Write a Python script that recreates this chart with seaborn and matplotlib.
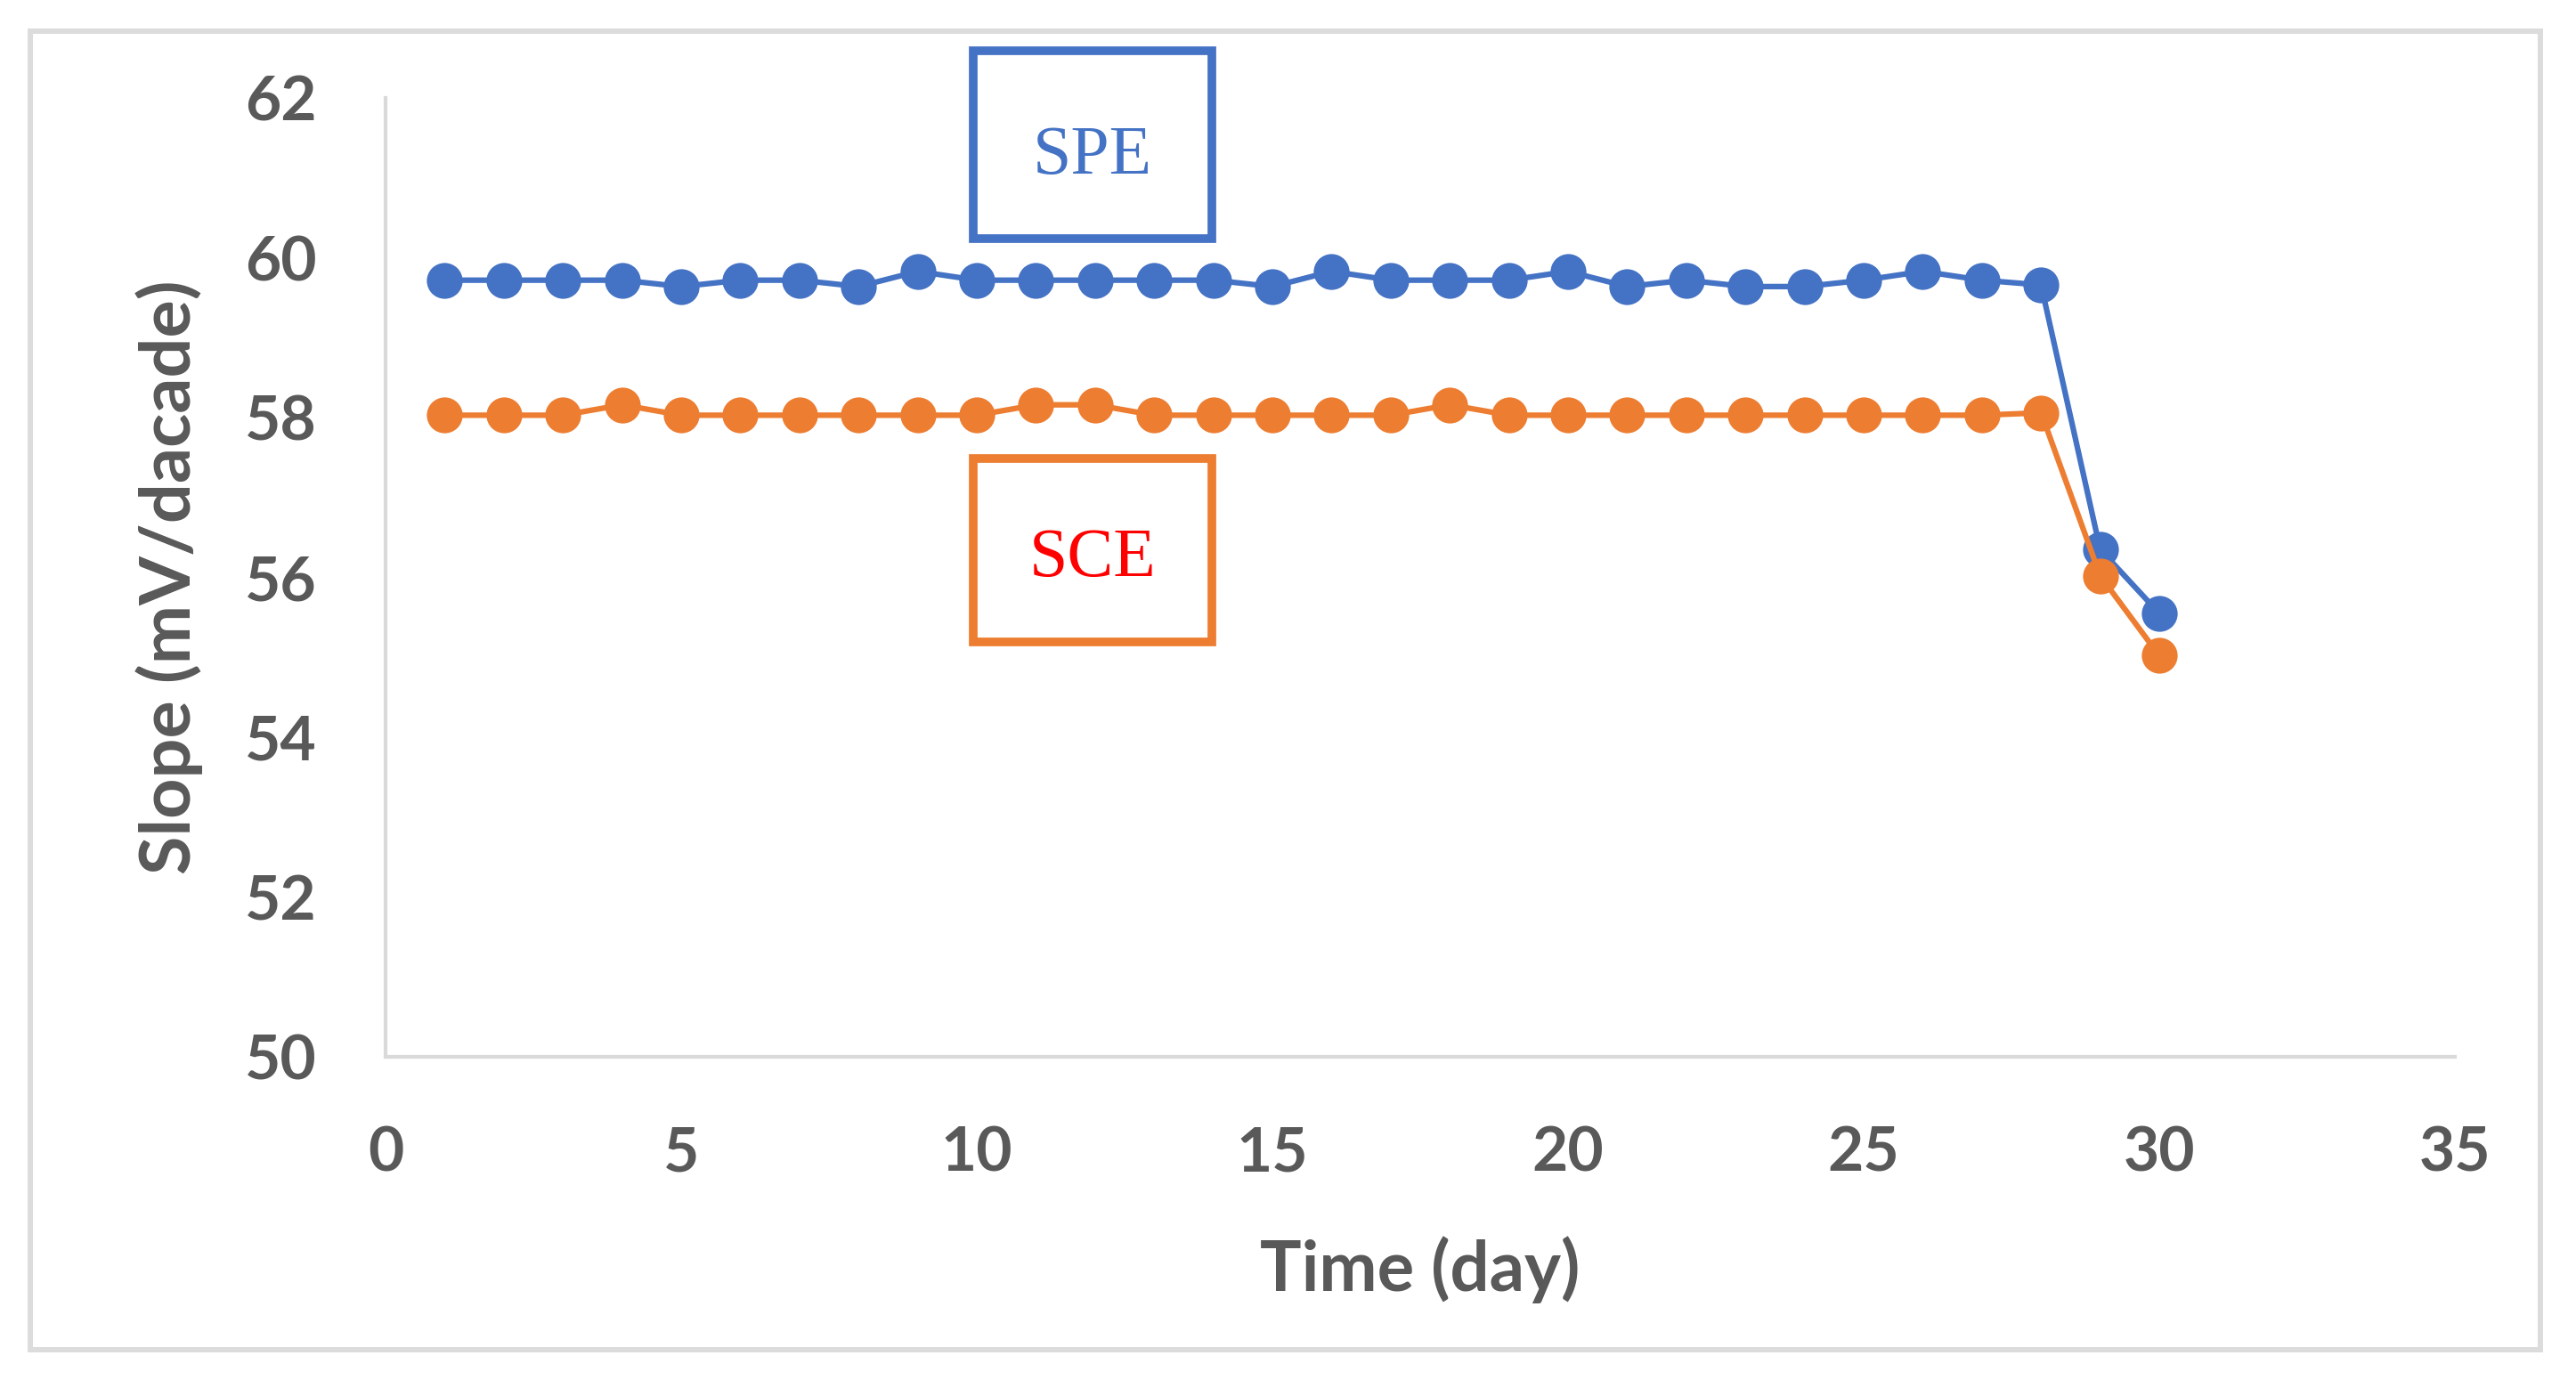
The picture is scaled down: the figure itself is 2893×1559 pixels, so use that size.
import seaborn as sns
import matplotlib.pyplot as plt
import pandas as pd
from matplotlib.patches import Rectangle

days = list(range(1, 31))
spe = [59.72, 59.72, 59.72, 59.72, 59.64, 59.72, 59.72, 59.64, 59.83, 59.72,
       59.72, 59.72, 59.72, 59.72, 59.64, 59.83, 59.72, 59.72, 59.72, 59.83,
       59.64, 59.72, 59.64, 59.64, 59.72, 59.83, 59.72, 59.66, 56.35, 55.55]
sce = [58.03, 58.03, 58.03, 58.16, 58.03, 58.03, 58.03, 58.03, 58.03, 58.03,
       58.16, 58.16, 58.03, 58.03, 58.03, 58.03, 58.03, 58.16, 58.03, 58.03,
       58.03, 58.03, 58.03, 58.03, 58.03, 58.03, 58.03, 58.06, 56.02, 55.02]
x_ticks = [0, 5, 10, 15, 20, 25, 30, 35]
y_ticks = [50, 52, 54, 56, 58, 60, 62]

df = pd.DataFrame({
    'day': days + days,
    'slope': spe + sce,
    'electrode': ['SPE'] * len(days) + ['SCE'] * len(days),
})

sns.set_style('white')
plt.rcParams['font.family'] = ['Lato', 'DejaVu Sans']

grey = '#595959'
line_grey = '#d9d9d9'

fig = plt.figure(figsize=(28.93, 15.59), dpi=100)
ax = fig.add_axes([0.1497, 0.2386, 0.8033, 0.6908])

sns.lineplot(data=df, x='day', y='slope', hue='electrode',
             palette={'SPE': '#4472C4', 'SCE': '#ED7D31'},
             marker='o', markersize=29, markeredgewidth=0, linewidth=4.5,
             legend=False, ax=ax)

ax.set_xlim(0, 35)
ax.set_ylim(50, 62)
ax.set_xticks(x_ticks)
ax.set_yticks(y_ticks)
ax.tick_params(length=0, pad=56, labelsize=50, labelcolor=grey)
for lab in ax.get_xticklabels() + ax.get_yticklabels():
    lab.set_fontweight('bold')

for side in ['top', 'right']:
    ax.spines[side].set_visible(False)
for side in ['left', 'bottom']:
    ax.spines[side].set_color(line_grey)
    ax.spines[side].set_linewidth(3)

ax.set_xlabel('Time (day)', fontsize=56, fontweight='bold', color=grey, va='center')
ax.set_ylabel('Slope (mV/dacade)', fontsize=57, fontweight='bold', color=grey, va='center')
ax.xaxis.set_label_coords(0.5, -0.222)
ax.yaxis.set_label_coords(-0.1045, 0.5)

# boxed labels
ax.add_patch(Rectangle((0.284, 0.853), 0.1153, 0.196, transform=ax.transAxes,
                       fill=False, edgecolor='#4472C4', linewidth=7, clip_on=False))
ax.text(0.3417, 0.939, 'SPE', transform=ax.transAxes, ha='center', va='center',
        fontsize=56, color='#4472C4', family='Liberation Serif')
ax.add_patch(Rectangle((0.284, 0.4327), 0.1153, 0.1913, transform=ax.transAxes,
                       fill=False, edgecolor='#ED7D31', linewidth=7, clip_on=False))
ax.text(0.3417, 0.519, 'SCE', transform=ax.transAxes, ha='center', va='center',
        fontsize=56, color='#FF0000', family='Liberation Serif')

# outer frame
fig.add_artist(Rectangle((0.01175, 0.02758), 0.97442, 0.94997, transform=fig.transFigure,
                         fill=False, edgecolor='#dcdcdc', linewidth=4.3))

plt.savefig('out.png', dpi=100)
